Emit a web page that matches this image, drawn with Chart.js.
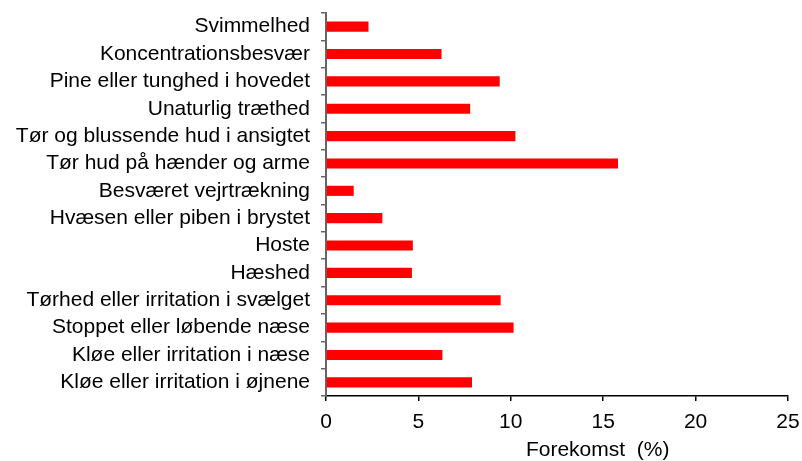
<!DOCTYPE html>
<html>
<head>
<meta charset="utf-8">
<script src="https://cdn.jsdelivr.net/npm/chart.js@4"></script>
<style>
  html, body { margin: 0; padding: 0; background: #fff; }
  #wrap { width: 802px; height: 461px; }
</style>
</head>
<body>
<div id="wrap"><canvas id="c" width="802" height="461"></canvas></div>
<script>
// Symptoms (top to bottom) and their occurrence in percent
const symptoms = [
  "Svimmelhed",
  "Koncentrationsbesvær",
  "Pine eller tunghed i hovedet",
  "Unaturlig træthed",
  "Tør og blussende hud i ansigtet",
  "Tør hud på hænder og arme",
  "Besværet vejrtrækning",
  "Hvæsen eller piben i brystet",
  "Hoste",
  "Hæshed",
  "Tørhed eller irritation i svælget",
  "Stoppet eller løbende næse",
  "Kløe eller irritation i næse",
  "Kløe eller irritation i øjnene"
];
const occurrence = [2.3, 6.25, 9.4, 7.8, 10.25, 15.8, 1.5, 3.05, 4.7, 4.65, 9.45, 10.15, 6.3, 7.9];
const xTicks = [0, 5, 10, 15, 20, 25];
const xTitle = "Forekomst  (%)";

const FONT = "'Liberation Sans', Arial, sans-serif";
const FONT_SIZE = 21;

// Axis title drawn under the value axis, slightly right of centre
const axisTitlePlugin = {
  id: 'axisTitle',
  afterDraw(chart) {
    const { ctx } = chart;
    const xs = chart.scales.x;
    ctx.save();
    ctx.font = FONT_SIZE + "px " + FONT;
    ctx.fillStyle = "#000";
    ctx.textAlign = "center";
    ctx.textBaseline = "alphabetic";
    ctx.fillText(xTitle, xs.getPixelForValue(14.7), 456);
    ctx.restore();
  }
};

new Chart(document.getElementById('c'), {
  type: 'bar',
  data: {
    labels: symptoms,
    datasets: [{
      data: occurrence,
      backgroundColor: '#ff0000',
      borderWidth: 0,
      categoryPercentage: 1,
      barPercentage: 0.37
    }]
  },
  options: {
    indexAxis: 'y',
    responsive: false,
    animation: false,
    layout: { padding: { top: 13, right: 14, left: 0, bottom: 0 } },
    plugins: { legend: { display: false }, tooltip: { enabled: false } },
    scales: {
      x: {
        min: 0,
        max: 25,
        afterBuildTicks(scale) { scale.ticks = xTicks.map(v => ({ value: v })); },
        afterFit(scale) {
          scale.height = 65;
          scale.paddingLeft = 0;
          scale.paddingRight = 0;
        },
        border: { display: true, color: '#000', width: 1.5 },
        grid: { drawOnChartArea: false, drawTicks: true, tickLength: 5, color: '#000', lineWidth: 1.5 },
        ticks: { color: '#000', font: { family: FONT, size: FONT_SIZE }, padding: 9, maxRotation: 0 }
      },
      y: {
        afterFit(scale) {
          scale.width = 326;
          scale.paddingTop = 0;
          scale.paddingBottom = 0;
        },
        border: { display: true, color: '#666', width: 2 },
        grid: { drawOnChartArea: false, drawTicks: true, tickLength: 5, color: '#666', lineWidth: 1.5 },
        ticks: { color: '#000', font: { family: FONT, size: FONT_SIZE }, padding: 11, autoSkip: false }
      }
    }
  },
  plugins: [axisTitlePlugin]
});
</script>
</body>
</html>
